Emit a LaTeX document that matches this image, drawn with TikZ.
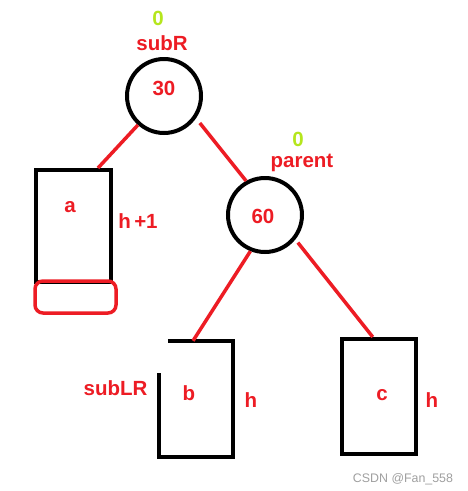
\documentclass[tikz,border=0pt]{standalone}
\usepackage{fontspec}
\setmainfont{Liberation Sans}
\usetikzlibrary{calc}
\definecolor{pred}{RGB}{237,28,36}
\definecolor{pgreen}{RGB}{181,230,29}
\definecolor{wmgray}{RGB}{160,160,160}
\begin{document}
\begin{tikzpicture}[x=1pt,y=-1pt,
  lbl/.style={text=pred,font=\fontsize{20.5}{24}\selectfont\bfseries,inner sep=0pt,anchor=base},
  bal/.style={text=pgreen,font=\fontsize{20.5}{24}\selectfont\bfseries,inner sep=0pt,anchor=base},
  tnode/.style={circle,draw=black,line width=4pt,minimum size=74pt,inner sep=0pt},
  tbox/.style={rectangle,draw=black,line width=4pt,inner sep=0pt},
  ghost/.style={rectangle,inner sep=0pt},
  edge/.style={draw=pred,line width=3.5pt},
  hl/.style={draw=pred,line width=3.5pt,rounded corners=8pt}]
\useasboundingbox (0,0) rectangle (468,491);
\fill[white] (0,0) rectangle (468,491);

% nodes
\node[tnode] (c30) at (164,96) {};
\node[tnode] (c60) at (265,215) {};
\node[tbox,minimum width=75pt,minimum height=112pt] (boxa) at (73.5,226) {};
\node[ghost,minimum width=74pt,minimum height=116pt] (boxb) at (196,399) {};
\node[tbox,minimum width=74pt,minimum height=115pt] (boxc) at (379,396.5) {};
\node[hl,minimum width=81pt,minimum height=32pt] (hla) at (75.5,297) {};

% open box b
\draw[line width=4pt] ($(boxb.north west)+(9,0)$) -- (boxb.north east) -- (boxb.south east) -- (boxb.south west) -- ($(boxb.north west)+(0,32)$);

% texts
\node[lbl] (t30) at (164,95) {30};
\node[lbl] (t60) at (263,223) {60};
\node[bal] (bR) at (158,25) {0};
\node[lbl] (subR) at (162,50) {subR};
\node[bal] (bP) at (298,146.5) {0};
\node[lbl] (par) at (302,167.5) {parent};
\node[lbl] (ta) at (70,212) {a};
\node[lbl] (ha) at (138,228) {h\,+1};
\node[lbl] (tb) at (189,400) {b};
\node[lbl] (hb) at (251,407) {h};
\node[lbl] (subLR) at (115.5,395) {subLR};
\node[lbl] (tc) at (382,400) {c};
\node[lbl] (hc) at (432,407) {h};
\node[text=wmgray,font=\fontsize{12.4}{14}\selectfont,inner sep=0pt,anchor=base] (wm) at (403,482) {CSDN @Fan\_558};

% edges
\draw[edge] (c30.228) -- ($(boxa.north west)!0.81!(boxa.north east)$);
\draw[edge] ($(c30.center)!1.15!(c30.323)$) -- (c60.119);
\draw[edge] (c60.248) -- ($(boxb.north west)!0.46!(boxb.north east)$);
\draw[edge] ($(c60.center)!1.1!(c60.320)$) -- ($(boxc.north west)!0.42!(boxc.north east)$);
\end{tikzpicture}
\end{document}
